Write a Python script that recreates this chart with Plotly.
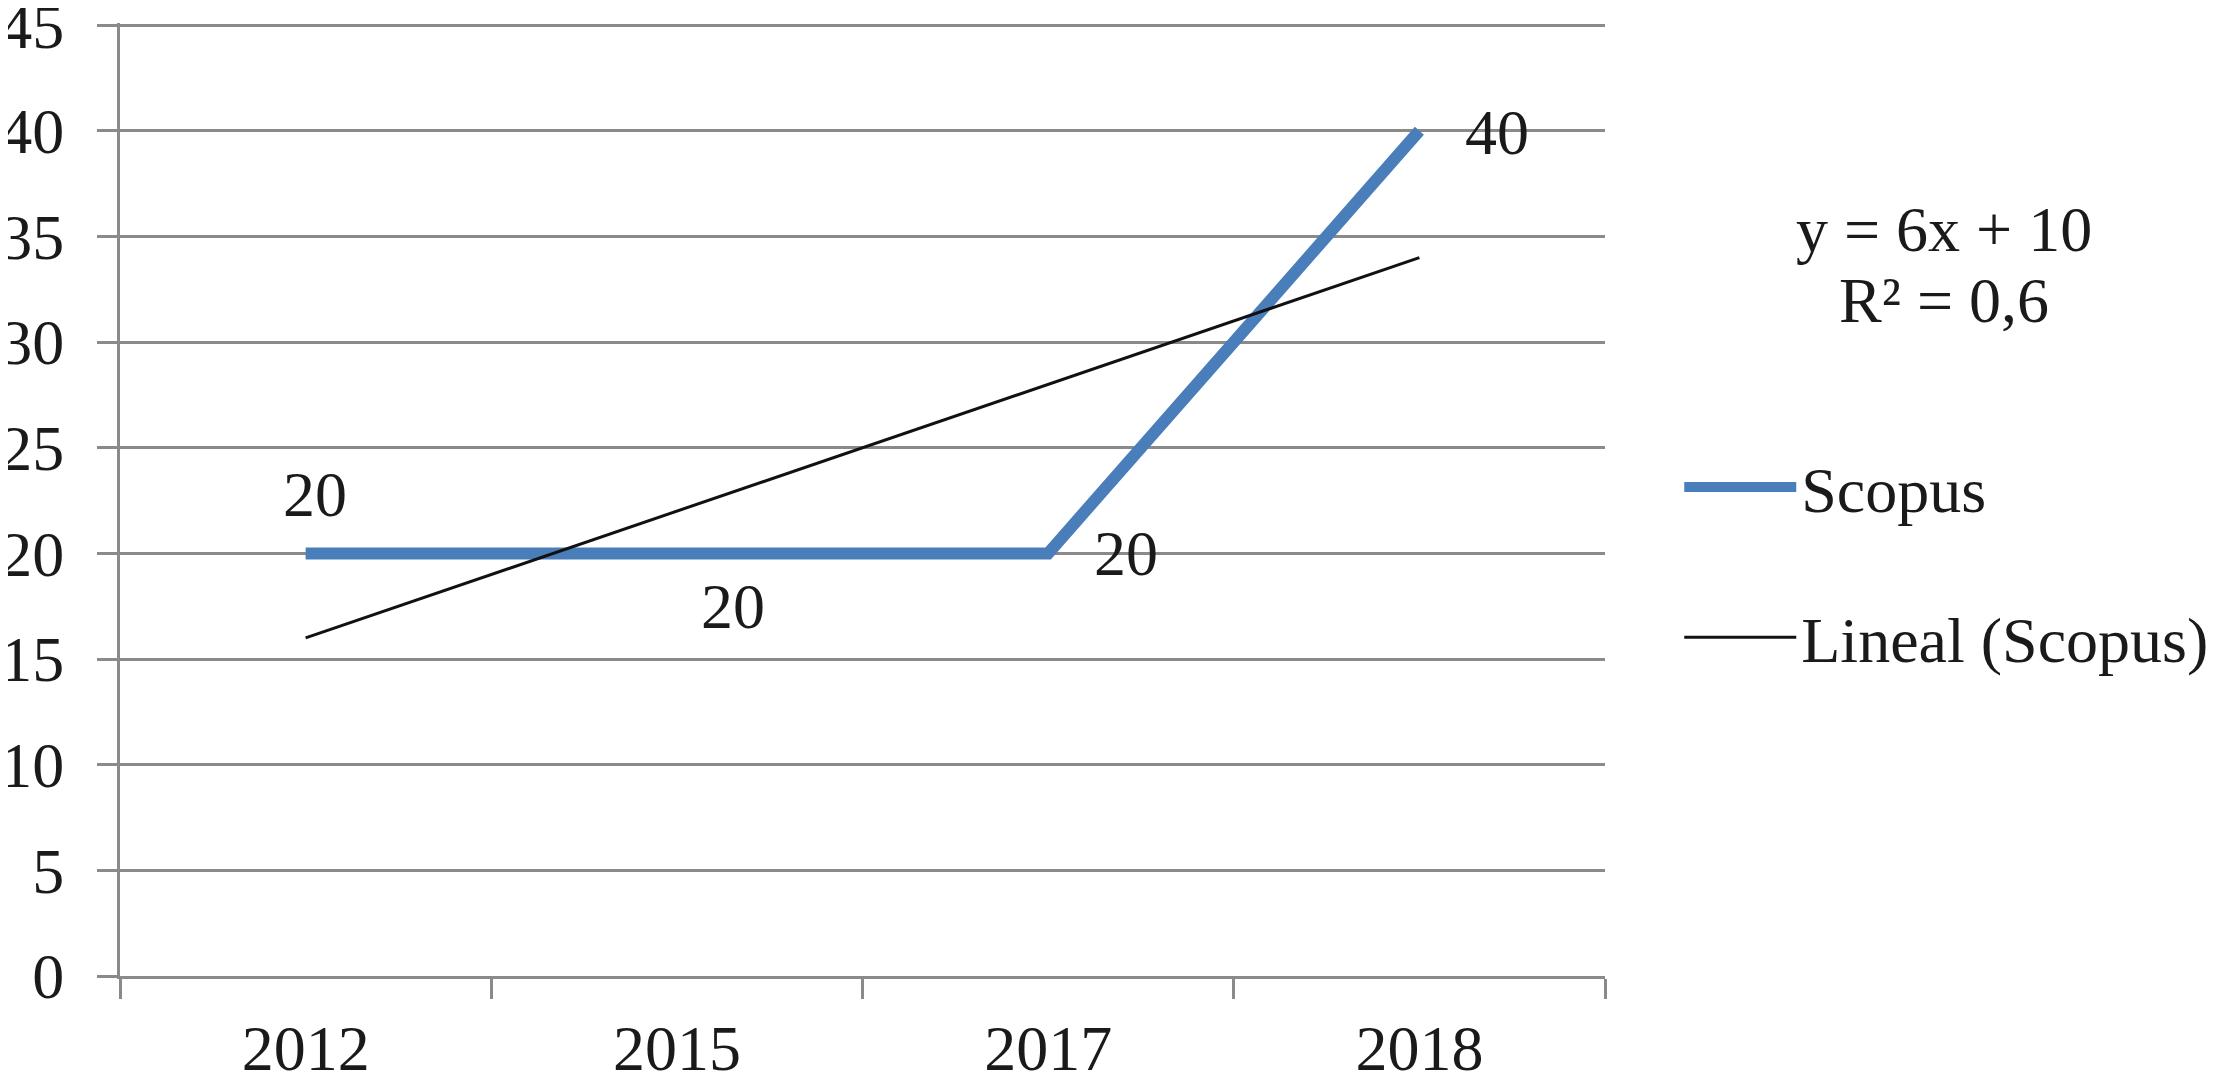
import plotly.graph_objects as go

# ---- data ----
years = ["2012", "2015", "2017", "2018"]
scopus = [20, 20, 20, 40]
trend = [16, 22, 28, 34]          # linear trend y = 6x + 10, x = 1..4
eq_lines = ["y = 6x + 10", "R² = 0,6"]
y_ticks = [0, 5, 10, 15, 20, 25, 30, 35, 40, 45]

# ---- style ----
FONT = "Liberation Serif"
FS = 64
TXT = "#1a1a1a"
GRID = "#8a8a8a"
BLUE = "#4a7ebb"

fig = go.Figure()
fig.add_trace(go.Scatter(
    x=years, y=scopus, mode="lines", name="Scopus",
    line=dict(color=BLUE, width=12), legendgroup="a",
))
fig.add_trace(go.Scatter(
    x=years, y=trend, mode="lines", name="Lineal (Scopus)",
    line=dict(color="#111111", width=3), legendgroup="b",
))

# data labels (offsets mimic the reference placement)
label_shift = [(9, 59), (56, -53), (78, 0), (78, -2)]
for i, (v, (dx, dy)) in enumerate(zip(scopus, label_shift)):
    fig.add_annotation(x=i, y=v, xref="x", yref="y", text=str(v),
                       showarrow=False, xshift=dx, yshift=dy,
                       font=dict(family=FONT, size=FS, color=TXT))

# trendline equation
for txt, yy in zip(eq_lines, [0.783, 0.709]):
    fig.add_annotation(xref="paper", yref="paper", x=1.228, y=yy, text=txt,
                       showarrow=False, xanchor="center", yanchor="middle",
                       font=dict(family=FONT, size=FS, color=TXT))

# page body has an 8px margin, so the figure is 8px smaller and margins shifted
fig.update_layout(
    width=2209, height=1067,
    margin=dict(l=112, r=612, t=15, b=99, autoexpand=False),
    plot_bgcolor="white", paper_bgcolor="white",
    font=dict(family=FONT, size=FS, color=TXT),
    showlegend=True,
    legend=dict(x=1.05, y=0.5635, xanchor="left", yanchor="top",
                font=dict(family=FONT, size=FS, color=TXT),
                bgcolor="rgba(0,0,0,0)", itemwidth=112,
                tracegroupgap=64, traceorder="grouped"),
    xaxis=dict(
        type="category", categoryorder="array", categoryarray=years,
        range=[-0.5, 3.5], tickson="boundaries",
        showline=True, linecolor=GRID, linewidth=3,
        ticks="outside", ticklen=20, tickwidth=3, tickcolor=GRID,
        showgrid=False, zeroline=False, ticklabelstandoff=14,
        ticklabeloverflow="allow",
        tickfont=dict(family=FONT, size=FS, color=TXT),
    ),
    yaxis=dict(
        range=[0, 45.1], tickvals=y_ticks,
        showline=True, linecolor=GRID, linewidth=3,
        ticks="outside", ticklen=20, tickwidth=3, tickcolor=GRID,
        showgrid=True, gridcolor=GRID, gridwidth=3, zeroline=False,
        ticklabelstandoff=20, ticklabeloverflow="allow",
        tickfont=dict(family=FONT, size=FS, color=TXT),
    ),
)

fig.write_html("out.html")
